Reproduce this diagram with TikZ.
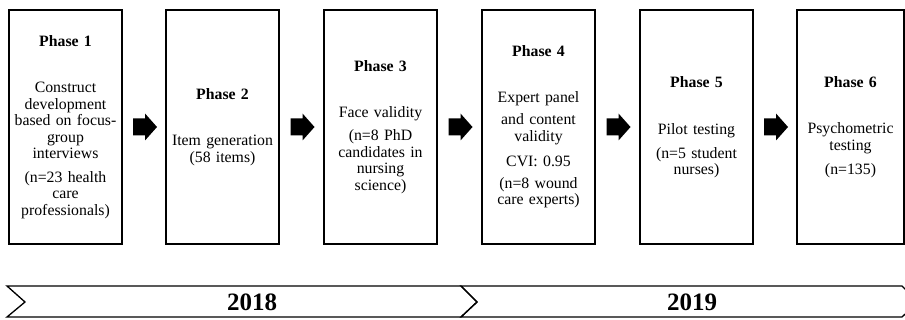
\documentclass[tikz,border=0pt]{standalone}
\usepackage{fontspec}
\setmainfont{Liberation Serif}
\usetikzlibrary{calc}
\begin{document}
\begin{tikzpicture}[x=1pt,y=-1pt,
  phasebox/.style={draw=black, line width=1.4pt, inner xsep=1.5pt, inner ysep=0pt,
    text width=110pt, minimum height=234pt, align=center,
    font=\fontsize{15.8}{16.5}\selectfont},
  fatarrow/.pic={\fill[black] (-11,-8.5) -- (1,-8.5) -- (1,-13.5) -- (13,0) -- (1,13.5) -- (1,8.5) -- (-11,8.5) -- cycle;},
  band/.style={draw=black, line width=1.3pt, line join=miter},
  year/.style={font=\fontsize{25}{25}\selectfont\bfseries, inner sep=0pt}
]
\useasboundingbox (0,0) rectangle (905,320);

\node[phasebox] (p1) at (65.5,127) {\textbf{Phase 1}\\[30pt]Construct\\development\\based on focus-\\group\\interviews\\[7pt](n=23 health\\care\\professionals)};
\node[phasebox] (p2) at (222.5,127) {\textbf{Phase 2}\\[30pt]Item generation\\(58 items)};
\node[phasebox] (p3) at (380.5,127) {\textbf{Phase 3}\\[29pt]Face validity\\[7pt](n=8 PhD\\candidates in\\nursing\\science)};
\node[phasebox] (p4) at (538.5,127) {\textbf{Phase 4}\\[29pt]Expert panel\\[6pt]and content\\validity\\[9pt]CVI: 0.95\\[5pt](n=8 wound\\care experts)};
\node[phasebox] (p5) at (696.5,127) {\textbf{Phase 5}\\[31pt]Pilot testing\\[7pt](n=5 student\\nurses)};
\node[phasebox, text width=104pt] (p6) at (850.5,127) {\textbf{Phase 6}\\[30pt]Psychometric\\testing\\[8pt](n=135)};

\pic at ($(p1.east)!0.5!(p2.west)$) {fatarrow};
\pic at ($(p2.east)!0.5!(p3.west)$) {fatarrow};
\pic at ($(p3.east)!0.5!(p4.west)$) {fatarrow};
\pic at ($(p4.east)!0.5!(p5.west)$) {fatarrow};
\pic at ($(p5.east)!0.5!(p6.west)$) {fatarrow};

\draw[band] (7,286) -- (461,286) -- (477,302) -- (461,317) -- (7,317) -- (25,302) -- cycle;
\begin{scope}
\clip (0,0) rectangle (905,320);
\draw[band] (461,286) -- (902,286) -- (918,302) -- (902,317) -- (461,317) -- (477,302) -- cycle;
\end{scope}
\node[year] (y1) at (252,302) {2018};
\node[year] (y2) at (692,302) {2019};
\end{tikzpicture}
\end{document}
